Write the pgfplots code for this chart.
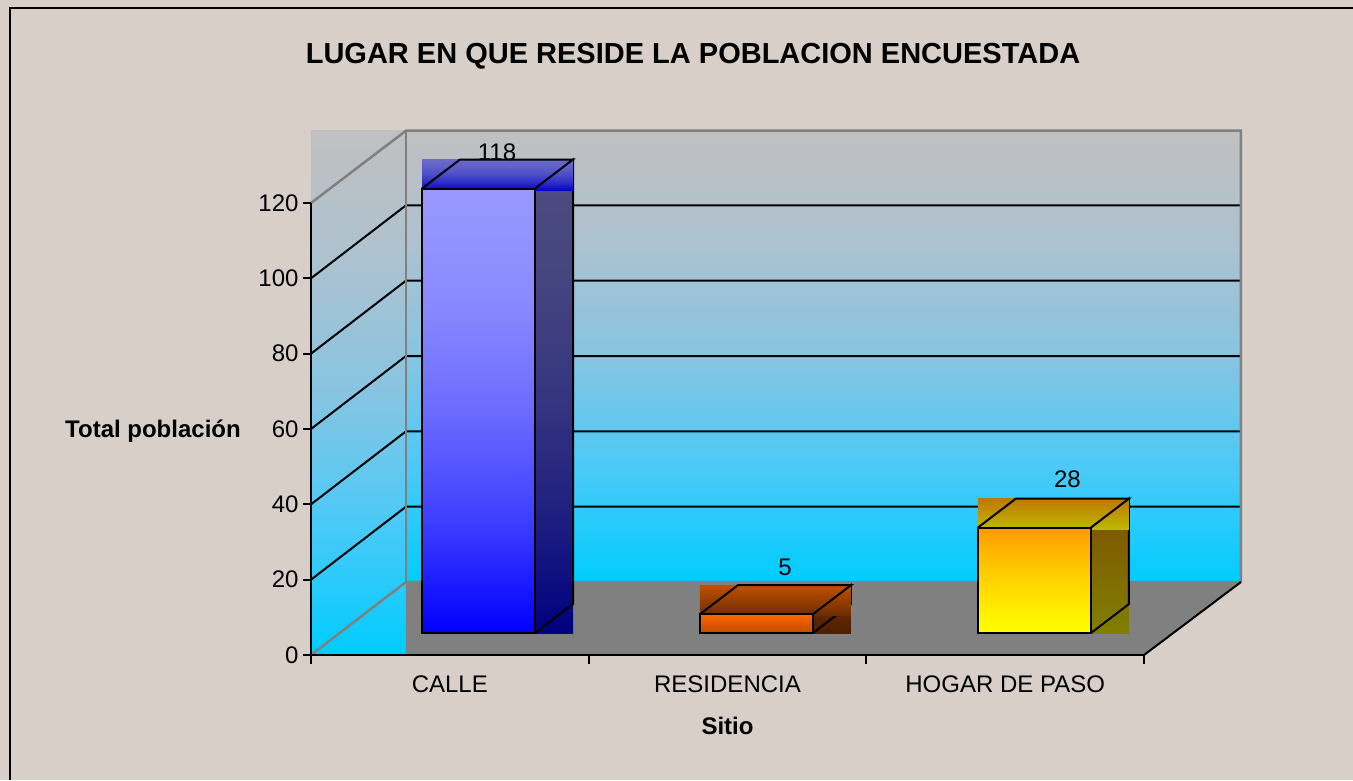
\documentclass[border=0pt]{standalone}
\usepackage{fontspec}
\setmainfont{Liberation Sans}
\usepackage{pgfplots}
\pgfplotsset{compat=1.18}
\definecolor{pagebg}{HTML}{D8CFC9}
\definecolor{floorc}{HTML}{808080}
\newcommand{\fs}{\fontsize{24}{28}\selectfont}
\pgfdeclareverticalshading{wallsh}{100bp}{rgb(0bp)=(0,.8,1); rgb(25bp)=(0,.8,1); rgb(37.5bp)=(.29,.79,.97); rgb(50bp)=(.53,.77,.885); rgb(62.5bp)=(.675,.76,.815); rgb(75bp)=(.753,.753,.753); rgb(100bp)=(.753,.753,.753)}
\pgfdeclareverticalshading{bluefront}{100bp}{rgb(0bp)=(0,0,1); rgb(25bp)=(0,0,1); rgb(37.5bp)=(.24,.24,1); rgb(50bp)=(.42,.42,1); rgb(62.5bp)=(.54,.54,1); rgb(75bp)=(.6,.6,1); rgb(100bp)=(.6,.6,1)}
\pgfdeclareverticalshading{blueside}{100bp}{rgb(0bp)=(0,0,.502); rgb(25bp)=(0,0,.502); rgb(37.5bp)=(.12,.12,.502); rgb(50bp)=(.21,.21,.502); rgb(62.5bp)=(.27,.27,.502); rgb(75bp)=(.302,.302,.502); rgb(100bp)=(.302,.302,.502)}
\pgfdeclareverticalshading{bluetop}{100bp}{rgb(0bp)=(0,0,.784); rgb(25bp)=(0,0,.784); rgb(37.5bp)=(.17,.17,.784); rgb(50bp)=(.29,.29,.784); rgb(62.5bp)=(.37,.37,.784); rgb(75bp)=(.42,.42,.784); rgb(100bp)=(.42,.42,.784)}
\pgfdeclareverticalshading{yelfront}{100bp}{rgb(0bp)=(1,1,0); rgb(25bp)=(1,1,0); rgb(37.5bp)=(1,.919,0); rgb(50bp)=(1,.829,0); rgb(62.5bp)=(1,.726,0); rgb(75bp)=(1,.6,0); rgb(100bp)=(1,.6,0)}
\pgfplotsset{
  face/.style={forget plot,no marks,draw=none,solid},
  edge/.style={forget plot,no marks,draw=black,line width=2pt,fill=none,line join=miter},
}
\begin{document}
\begin{tikzpicture}
\useasboundingbox (0,0) rectangle (1353pt,780pt);
\fill[pagebg] (0,0) rectangle (1353pt,780pt);
\draw[black,line width=2.2pt] (10pt,0pt) -- (10pt,772pt) -- (1353pt,772pt);
\begin{axis}[
  at={(311pt,125pt)}, anchor=south west,
  scale only axis, width=833pt, height=452pt,
  xmin=0, xmax=3, ymin=0, ymax=120,
  clip=false, axis on top,
  axis x line=bottom, axis y line=left,
  axis line style={-,black,line width=2pt},
  xtick={0.5,1.5,2.5},
  xticklabels={CALLE,RESIDENCIA,HOGAR DE PASO},
  minor xtick={0,1,2,3},
  ytick={0,20,...,120},
  tick align=outside,
  major tick length=8pt, minor tick length=9pt,
  x tick style={draw=none},
  minor x tick style={draw=black,line width=2pt},
  y tick style={draw=black,line width=2pt},
  /pgf/number format/assume math mode=true,
  tick label style={font=\fs,text=black},
  xticklabel style={yshift=-9pt},
  yticklabel style={xshift=-1pt},
  title={\bfseries LUGAR EN QUE RESIDE LA POBLACION ENCUESTADA},
  title style={font=\fontsize{29}{34}\selectfont,at={(rel axis cs:0.4586,1.312)},anchor=center},
  xlabel={\bfseries Sitio},
  xlabel style={font=\fs,at={(rel axis cs:0.5,-0.158)},anchor=center},
  ylabel={\bfseries Total población},
  ylabel style={font=\fs,rotate=-90,at={(rel axis cs:-0.1897,0.4956)},anchor=center},
]
% walls and floor
\addplot[face,shade,shading=wallsh] coordinates {(0,0)(0.3421,0)(0.3421,139.2)(0,139.2)} --cycle;
\addplot[face,shade,shading=wallsh] coordinates {(0.3421,19.38)(3.3493,19.38)(3.3493,139.2)(0.3421,139.2)} --cycle;
\addplot[face,fill=floorc] coordinates {(0.3421,0)(3,0)(3.3493,19.38)(0.3421,19.38)} --cycle;
% gridlines
\addplot[edge] coordinates {(0,20)(0.3421,39.38)(3.3493,39.38)};
\addplot[edge] coordinates {(0,40)(0.3421,59.38)(3.3493,59.38)};
\addplot[edge] coordinates {(0,60)(0.3421,79.38)(3.3493,79.38)};
\addplot[edge] coordinates {(0,80)(0.3421,99.38)(3.3493,99.38)};
\addplot[edge] coordinates {(0,100)(0.3421,119.38)(3.3493,119.38)};
% wall edges
\addplot[edge,draw=gray,line width=2.5pt] coordinates {(0,120)(0.3421,139.2)(3.3493,139.2)(3.3493,19.38)};
\addplot[edge,draw=gray,line width=2.5pt] coordinates {(0.3421,139.2)(0.3421,19.38)};
\addplot[edge,draw=gray,line width=2.5pt] coordinates {(0,0)(0.3421,19.38)(3.3493,19.38)};
\addplot[edge] coordinates {(3,0)(3.3493,19.38)};
% CALLE = 118
\addplot[face,shade,shading=blueside] coordinates {(0.8067,5.84)(0.9436,5.84)(0.9436,131.54)(0.8067,131.54)} --cycle;
\addplot[edge] coordinates {(0.8067,123.84)(0.9436,131.54)(0.9436,13.54)(0.8067,5.84)};
\addplot[face,shade,shading=bluetop] coordinates {(0.3998,123.3)(0.9436,123.3)(0.9436,131.54)(0.3998,131.54)} --cycle;
\addplot[edge] coordinates {(0.3998,123.84)(0.5367,131.54)(0.9436,131.54)(0.8067,123.84)};
\addplot[face,shade,shading=bluefront] coordinates {(0.3998,5.84)(0.8067,5.84)(0.8067,123.84)(0.3998,123.84)} --cycle;
\addplot[edge] coordinates {(0.3998,5.84)(0.8067,5.84)(0.8067,123.84)(0.3998,123.84)} --cycle;
% RESIDENCIA = 5
\addplot[face,top color={rgb,255:red,128;green,51;blue,0},bottom color={rgb,255:red,77;green,31;blue,0}] coordinates {(1.8079,5.84)(1.9447,5.84)(1.9447,18.54)(1.8079,18.54)} --cycle;
\addplot[edge] coordinates {(1.8079,10.84)(1.9447,18.54)(1.9447,13.54)(1.8079,5.84)};
\addplot[face,top color={rgb,255:red,192;green,80;blue,0},bottom color={rgb,255:red,110;green,45;blue,0}] coordinates {(1.4009,10.6)(1.9447,10.6)(1.9447,18.54)(1.4009,18.54)} --cycle;
\addplot[edge] coordinates {(1.4009,10.84)(1.5378,18.54)(1.9447,18.54)(1.8079,10.84)};
\addplot[face,top color={rgb,255:red,255;green,102;blue,0},bottom color={rgb,255:red,190;green,76;blue,0}] coordinates {(1.4009,5.84)(1.8079,5.84)(1.8079,10.84)(1.4009,10.84)} --cycle;
\addplot[edge] coordinates {(1.4009,5.84)(1.8079,5.84)(1.8079,10.84)(1.4009,10.84)} --cycle;
% HOGAR DE PASO = 28
\addplot[face,top color={rgb,255:red,127;green,80;blue,0},bottom color={rgb,255:red,128;green,127;blue,0}] coordinates {(2.8091,5.84)(2.9459,5.84)(2.9459,41.54)(2.8091,41.54)} --cycle;
\addplot[edge] coordinates {(2.8091,33.84)(2.9459,41.54)(2.9459,13.54)(2.8091,5.84)};
\addplot[face,top color={rgb,255:red,190;green,120;blue,0},bottom color={rgb,255:red,190;green,185;blue,0}] coordinates {(2.4021,33.3)(2.9459,33.3)(2.9459,41.54)(2.4021,41.54)} --cycle;
\addplot[edge] coordinates {(2.4021,33.84)(2.539,41.54)(2.9459,41.54)(2.8091,33.84)};
\addplot[face,shade,shading=yelfront] coordinates {(2.4021,5.84)(2.8091,5.84)(2.8091,33.84)(2.4021,33.84)} --cycle;
\addplot[edge] coordinates {(2.4021,5.84)(2.8091,5.84)(2.8091,33.84)(2.4021,33.84)} --cycle;
% data labels
\node[font=\fs,text=black] at (axis cs:0.6700,133.5) {118};
\node[font=\fs,text=black] at (axis cs:1.7070,23.4) {5};
\node[font=\fs,text=black] at (axis cs:2.7240,46.7) {28};
\end{axis}
\end{tikzpicture}
\end{document}
